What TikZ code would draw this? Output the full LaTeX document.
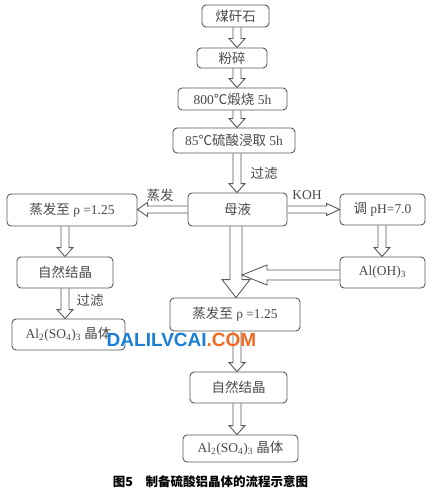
\documentclass[tikz,border=0pt]{standalone}
\usepackage{fontspec}
\setmainfont{Liberation Serif}
\newfontfamily\cjk{Noto Sans CJK SC}
\newfontfamily\wmfont{Liberation Sans}
\usetikzlibrary{calc}
\definecolor{linec}{HTML}{5A5A5A}
\definecolor{textc}{HTML}{4A4A4A}
\definecolor{wmblue}{HTML}{1A7FD4}
\definecolor{wmorange}{HTML}{F26A21}
\tikzset{
  box/.style={draw=linec, line width=0.9pt, rounded corners=4pt, text=textc,
    inner sep=0pt, font=\fontsize{13.5}{15}\selectfont},
  arr/.style={draw=linec, line width=0.9pt, line join=miter},
  lbl/.style={text=textc, inner sep=0pt, font=\fontsize{13.5}{15}\selectfont}
}
\newcommand{\harrow}[5]{%
  \path ($(#2)!#5!(#1)$) coordinate (hc);
  \draw[arr] ($(#1)!#3!90:(#2)$) -- ($(hc)!#3!90:(#2)$) -- ($(hc)!#4!90:(#2)$) -- (#2)
    -- ($(hc)!#4!-90:(#2)$) -- ($(hc)!#3!-90:(#2)$) -- ($(#1)!#3!-90:(#2)$);
}
\begin{document}
\begin{tikzpicture}[x=1pt,y=-1pt]
\useasboundingbox[fill=white] (0,0) rectangle (432,495);
% boxes
\node[box, minimum width=67pt, minimum height=22pt] (b1) at (235.5,16) {\cjk 煤矸石};
\node[box, minimum width=70pt, minimum height=20pt] (b2) at (232,58) {\cjk 粉碎};
\node[box, minimum width=109pt, minimum height=22pt] (b3) at (232.5,99) {800{\cjk ℃煅烧} 5h};
\node[box, minimum width=122pt, minimum height=25pt] (b4) at (234,140.5) {85{\cjk ℃硫酸浸取} 5h};
\node[box, minimum width=99pt, minimum height=33pt] (muye) at (237.5,209.5) {\cjk 母液};
\node[box, minimum width=130pt, minimum height=32pt] (L1) at (72,210) {{\cjk 蒸发至} ρ =1.25};
\node[box, minimum width=85pt, minimum height=31pt] (R1) at (382.5,209.5) {{\cjk 调} pH=7.0};
\node[box, minimum width=85pt, minimum height=31pt] (R2) at (382.5,272.5) {Al(OH)\textsubscript{3}};
\node[box, minimum width=96pt, minimum height=31pt] (L2) at (65,272.5) {\cjk 自然结晶};
\node[box, minimum width=113pt, minimum height=31pt] (L3) at (68.5,334.5) {Al\textsubscript{2}(SO\textsubscript{4})\textsubscript{3} {\cjk 晶体}};
\node[box, minimum width=130pt, minimum height=33pt] (M1) at (235,314.5) {{\cjk 蒸发至} ρ =1.25};
\node[box, minimum width=97pt, minimum height=31pt] (M2) at (238.5,387.5) {\cjk 自然结晶};
\node[box, minimum width=115pt, minimum height=27pt] (M3) at (240.5,448.5) {Al\textsubscript{2}(SO\textsubscript{4})\textsubscript{3} {\cjk 晶体}};
% column coordinates
\coordinate (cx) at (237,0);
\coordinate (lx) at (65,0);
\coordinate (rx) at (382,0);
\coordinate (mx) at (236,0);
\coordinate (sx) at (242,0);
\coordinate (ay) at (0,275);
% arrows
\harrow{b1.south -| cx}{b2.north -| cx}{4pt}{8pt}{9pt}
\harrow{b2.south -| cx}{b3.north -| cx}{4pt}{8pt}{9pt}
\harrow{b3.south -| cx}{b4.north -| cx}{4pt}{8pt}{9pt}
\harrow{b4.south -| cx}{muye.north -| cx}{4pt}{8pt}{9pt}
\harrow{muye.west}{L1.east |- muye.west}{3.5pt}{7pt}{10pt}
\harrow{muye.east}{R1.west |- muye.east}{3.5pt}{6pt}{13pt}
\harrow{R1.south -| rx}{R2.north -| rx}{4pt}{8pt}{9pt}
\harrow{L1.south -| lx}{L2.north -| lx}{4pt}{8pt}{9pt}
\harrow{L2.south -| lx}{L3.north -| lx}{4pt}{8pt}{9pt}
\harrow{muye.south -| mx}{M1.north -| mx}{6pt}{14pt}{18pt}
\harrow{R2.west |- ay}{sx |- ay}{5pt}{10pt}{25pt}
\harrow{M1.south -| cx}{M2.north -| cx}{4pt}{8pt}{9pt}
\harrow{M2.south -| cx}{M3.north -| cx}{4pt}{8pt}{9pt}
% labels
\node[lbl] (t1) at (264,173) {\cjk 过滤};
\node[lbl] (t2) at (160,195) {\cjk 蒸发};
\node[lbl] (t3) at (307,195) {KOH};
\node[lbl] (t4) at (90,300) {\cjk 过滤};
% watermark
\node[inner sep=0pt, font=\wmfont\bfseries\fontsize{19}{21}\selectfont] (wm) at (181.5,340)
  {\textcolor{wmblue}{DALILVCAI}\textcolor{wmorange}{.COM}};
% caption
\node[inner sep=0pt, font=\cjk\bfseries\fontsize{12.5}{14}\selectfont] (cap) at (210.5,482)
  {图5\quad 制备硫酸铝晶体的流程示意图};
\end{tikzpicture}
\end{document}
